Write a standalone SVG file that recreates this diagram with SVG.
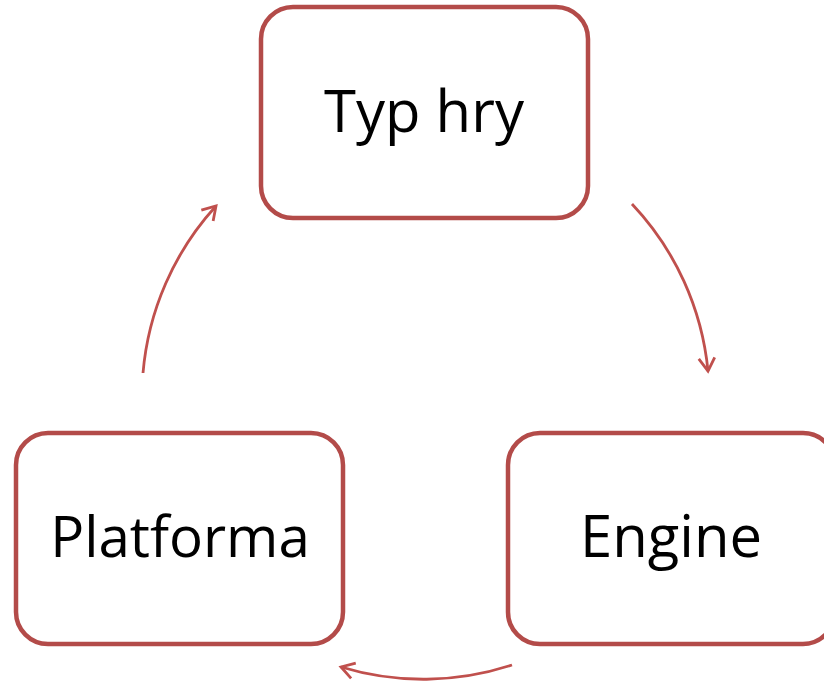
<svg xmlns="http://www.w3.org/2000/svg" width="824" height="684" viewBox="0 0 824 684">
<style>
.box{fill:#fff;stroke:#B34B49;stroke-width:4.5}
.lbl{font-family:"Open Sans","Liberation Sans",sans-serif;font-size:58px;fill:#000;text-anchor:middle}
.arc{fill:none;stroke:#C0504D;stroke-width:2.8}
</style>
<defs>
<marker id="ah" markerUnits="userSpaceOnUse" markerWidth="30" markerHeight="30" refX="0" refY="0" viewBox="-15 -15 30 30" orient="auto">
<path d="M-13,-8 L0,0 L-13,8" fill="none" stroke="#C0504D" stroke-width="2.8"/>
</marker>
</defs>
<rect width="824" height="684" fill="#fff"/>
<g id="connectors">
<path class="arc" d="M632,204 A283,283 0 0 1 708,371" marker-end="url(#ah)"/>
<path class="arc" d="M512,665 A283,283 0 0 1 341,667" marker-end="url(#ah)"/>
<path class="arc" d="M143,373 A283,283 0 0 1 216,206" marker-end="url(#ah)"/>
</g>
<g id="typ-hry">
<rect class="box" x="261" y="7" width="327" height="211" rx="32"/>
<text class="lbl" x="424" y="132">Typ hry</text>
</g>
<g id="platforma">
<rect class="box" x="16" y="433" width="327" height="211" rx="32"/>
<text class="lbl" x="180" y="557" style="font-size:56.5px">Platforma</text>
</g>
<g id="engine">
<rect class="box" x="508" y="433" width="327" height="211" rx="32"/>
<text class="lbl" x="671" y="557">Engine</text>
</g>
</svg>
